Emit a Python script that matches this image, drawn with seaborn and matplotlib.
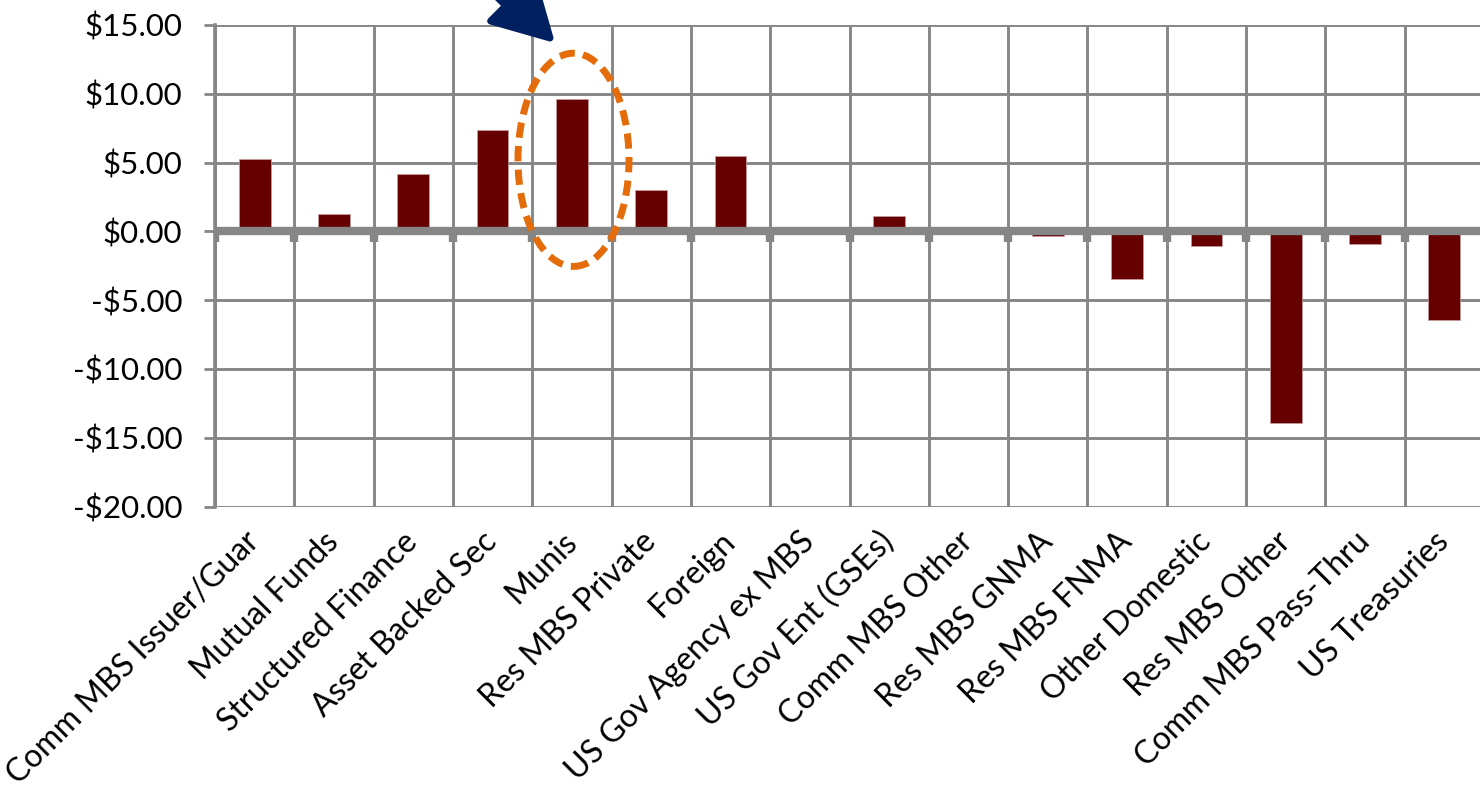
import matplotlib
matplotlib.use("Agg")
import matplotlib.pyplot as plt
import seaborn as sns
import numpy as np
import pandas as pd
from matplotlib.patches import Ellipse, FancyArrow
from matplotlib.ticker import FuncFormatter, FixedLocator

categories = ["Comm MBS Issuer/Guar", "Mutual Funds", "Structured Finance", "Asset Backed Sec",
              "Munis", "Res MBS Private", "Foreign", "US Gov Agency ex MBS", "US Gov Ent (GSEs)",
              "Comm MBS Other", "Res MBS GNMA", "Res MBS FNMA", "Other Domestic", "Res MBS Other",
              "Comm MBS Pass-Thru", "US Treasuries"]
values = [5.25, 1.25, 4.17, 7.38, 9.65, 2.98, 5.49, 0.0, 1.15, 0.0, -0.36, -3.44, -1.10, -13.9, -0.93, -6.43]
y_ticks = [-20, -15, -10, -5, 0, 5, 10, 15]

sns.set_theme(style="white")
plt.rcParams['font.family'] = ['Lato', 'DejaVu Sans']

GRID = "#868686"
BAR = "#660000"

fig = plt.figure(figsize=(14.8, 7.93), dpi=100)
ax = fig.add_axes([215/1480, (793-506.5)/793, 1269/1480, 481.5/793])

df = pd.DataFrame({"cat": categories, "val": values})
sns.barplot(data=df, x="cat", y="val", color=BAR, width=0.4, ax=ax,
            saturation=1, edgecolor="#c9a0a0", linewidth=0.5, zorder=3)

ax.set_xlim(-0.5, len(categories) - 0.5)
ax.set_ylim(-20, 15)
ax.set_xlabel("")
ax.set_ylabel("")

ax.yaxis.set_major_locator(FixedLocator(y_ticks))
ax.yaxis.set_major_formatter(FuncFormatter(lambda v, p: f"-${abs(v):.2f}" if v < 0 else f"${v:.2f}"))
ax.tick_params(axis="y", which="major", left=True, length=8, width=2, color=GRID,
               labelsize=22.5, pad=15.5, labelcolor="black")

bounds = np.arange(-0.5, len(categories), 1.0)
ax.xaxis.set_minor_locator(FixedLocator(bounds))
ax.tick_params(axis="x", which="major", length=0, labelsize=23, pad=22, labelcolor="black")
ax.tick_params(axis="x", which="minor", length=0)
for lab in ax.get_xticklabels():
    lab.set_rotation(45)
    lab.set_ha("right")
    lab.set_va("center")
    lab.set_rotation_mode("anchor")

ax.grid(True, axis="y", which="major", color=GRID, linewidth=2.1, zorder=0)
ax.grid(True, axis="x", which="minor", color=GRID, linewidth=2.1, zorder=0)
ax.grid(False, axis="x", which="major")
ax.set_axisbelow(True)

for s in ["top", "right", "bottom"]:
    ax.spines[s].set_visible(False)
ax.spines["left"].set_color(GRID)
ax.spines["left"].set_linewidth(2.6)

# zero (category) axis line with tick stubs
ax.axhline(0, color=GRID, linewidth=6, zorder=4)
ax.vlines(bounds, -0.75, 0, colors=GRID, linewidth=6, zorder=4)

# annotation: dashed ellipse around Munis
munis_idx = categories.index("Munis")
ell = Ellipse((munis_idx + 0.02, 5.2), 1.4, 15.5, fill=False, edgecolor="#E46C0A",
              linewidth=5, linestyle=(0, (2.2, 1.2)), zorder=6, clip_on=False)
ax.add_patch(ell)

# annotation: navy arrow (overlay in pixel space)
ov = fig.add_axes([0, 0, 1, 1], zorder=10)
ov.set_xlim(0, 1480)
ov.set_ylim(793, 0)
ov.axis("off")
ov.patch.set_alpha(0)
arr = FancyArrow(402, -110, 148, 148, width=17, head_width=60, head_length=54,
                 length_includes_head=True, facecolor="#002060", edgecolor="#002060",
                 linewidth=5, joinstyle="round")
ov.add_patch(arr)

fig.savefig("out.png", dpi=100)
